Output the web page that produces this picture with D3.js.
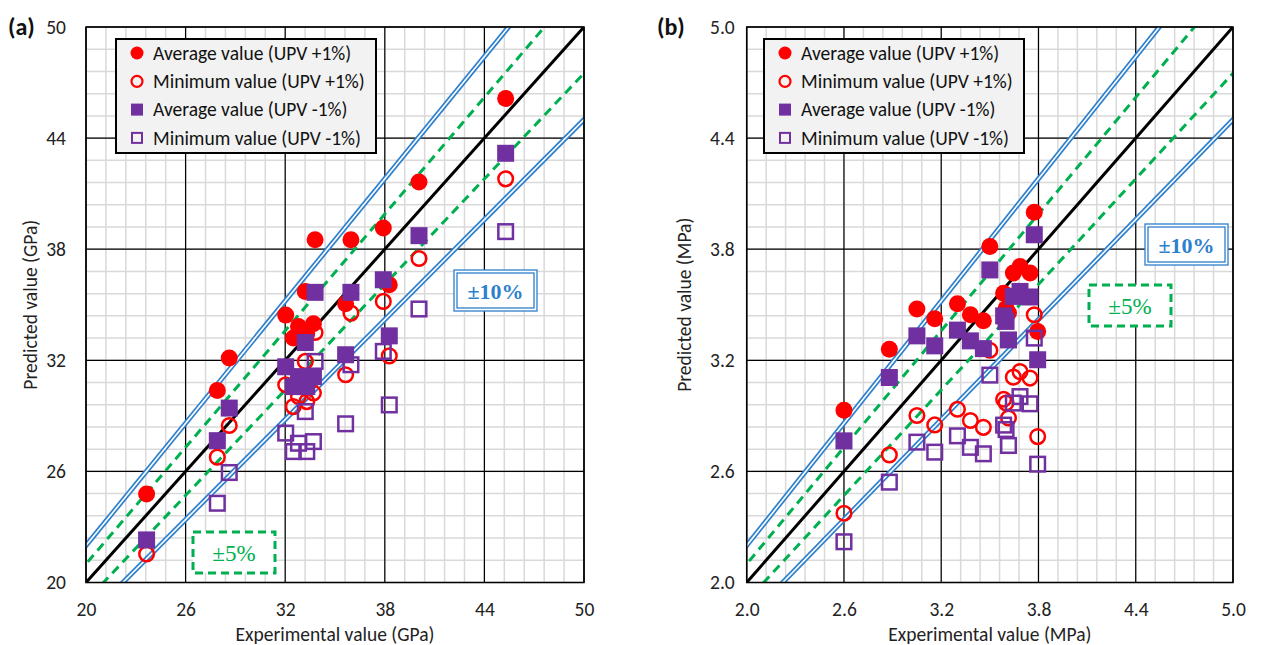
<!DOCTYPE html>
<html>
<head>
<meta charset="utf-8">
<script src="https://cdn.jsdelivr.net/npm/d3@7"></script>
<style>
  body { margin: 0; background: #fff; }
  svg text { font-family: Carlito, Lato, "Open Sans", sans-serif; }
</style>
</head>
<body>
<svg id="chart" width="1285" height="645"></svg>
<script>
// ---- data (a): elastic modulus, GPa ----
const expA      = [23.65, 27.91, 28.63, 32.03, 32.49, 32.8, 33.21, 33.3, 33.7, 33.8, 35.64, 35.96, 37.91, 38.27, 40.06, 45.28];
const avgPlusA  = [24.78, 30.37, 32.12, 34.44, 33.2, 33.83, 35.72, 33.45, 33.97, 38.51, 35.05, 38.51, 39.15, 36.08, 41.63, 46.14];
const minPlusA  = [21.54, 26.77, 28.48, 30.68, 29.5, 30.05, 31.94, 29.77, 30.23, 33.5, 31.22, 34.55, 35.18, 32.24, 37.5, 41.8];
const avgMinusA = [22.3, 27.66, 29.42, 31.65, 30.58, 31.12, 32.96, 30.58, 31.12, 35.67, 32.3, 35.67, 36.35, 33.32, 38.73, 43.18];
const minMinusA = [null, 24.28, 25.94, 28.07, 27.07, 27.52, 29.23, 27.07, 27.61, 31.94, 28.57, 31.76, 32.48, 29.59, 34.77, 38.95];
const ticksA = [20, 26, 32, 38, 44, 50];

// ---- data (b): strength, MPa ----
const expB      = [2.6, 2.88, 3.05, 3.16, 3.3, 3.38, 3.46, 3.5, 3.585, 3.6, 3.615, 3.645, 3.686, 3.748, 3.774, 3.795];
const avgPlusB  = [2.93, 3.26, 3.477, 3.424, 3.505, 3.446, 3.413, 3.815, 3.562, 3.48, 3.455, 3.671, 3.707, 3.671, 3.999, 3.356];
const minPlusB  = [2.374, 2.689, 2.902, 2.851, 2.936, 2.875, 2.838, 3.254, 2.99, 2.969, 2.888, 3.109, 3.139, 3.104, 3.446, 2.788];
const avgMinusB = [2.765, 3.107, 3.332, 3.278, 3.363, 3.305, 3.263, 3.688, 3.44, 3.41, 3.31, 3.545, 3.572, 3.542, 3.878, 3.203];
const minMinusB = [2.22, 2.542, 2.758, 2.704, 2.792, 2.73, 2.695, 3.12, 2.85, 2.826, 2.74, 2.969, 3.004, 2.965, 3.32, 2.639];
const ticksB = [2.0, 2.6, 3.2, 3.8, 4.4, 5.0];

const legendLabels = ["Average value (UPV +1%)", "Minimum value (UPV +1%)", "Average value (UPV -1%)", "Minimum value (UPV -1%)"];

const RED = "#ff0000", PURPLE = "#7030a0", GREEN = "#00b050", BLUE = "#2e7fcc";
const FS = 19.5; // text size

const svg = d3.select("#chart");

function drawPanel(c) {
  const x = d3.scaleLinear().domain([c.ticks[0], c.ticks[5]]).range([c.left, c.right]);
  const y = d3.scaleLinear().domain([c.ticks[0], c.ticks[5]]).range([c.bottom, c.top]);
  const lo = c.ticks[0], hi = c.ticks[5];
  const minorStep = (hi - lo) / 25;
  const minor = d3.range(0, 26).map(i => lo + i * minorStep);

  const g = svg.append("g");

  // minor grid
  g.selectAll(".mx").data(minor).enter().append("line")
    .attr("x1", d => x(d)).attr("x2", d => x(d)).attr("y1", c.top).attr("y2", c.bottom)
    .attr("stroke", "#d9d9d9").attr("stroke-width", 1.5);
  g.selectAll(".my").data(minor).enter().append("line")
    .attr("y1", d => y(d)).attr("y2", d => y(d)).attr("x1", c.left).attr("x2", c.right)
    .attr("stroke", "#d9d9d9").attr("stroke-width", 1.5);
  // major grid
  g.selectAll(".Mx").data(c.ticks).enter().append("line")
    .attr("x1", d => x(d)).attr("x2", d => x(d)).attr("y1", c.top).attr("y2", c.bottom)
    .attr("stroke", "#000").attr("stroke-width", 1.2);
  g.selectAll(".My").data(c.ticks).enter().append("line")
    .attr("y1", d => y(d)).attr("y2", d => y(d)).attr("x1", c.left).attr("x2", c.right)
    .attr("stroke", "#000").attr("stroke-width", 1.2);

  // reference lines, clipped to plot area
  const clipId = "clip" + c.name;
  svg.append("clipPath").attr("id", clipId).append("rect")
    .attr("x", c.left).attr("y", c.top).attr("width", c.right - c.left).attr("height", c.bottom - c.top);
  const ref = g.append("g").attr("clip-path", `url(#${clipId})`);
  const line = d3.line().x(d => x(d[0])).y(d => y(d[1]));
  const span = k => [[lo * 0.8, lo * 0.8 * k], [hi * 1.2, hi * 1.2 * k]];

  [1.1, 0.9].forEach(k => {
    // double line: thick blue with thin white centre
    ref.append("path").attr("d", line(span(k))).attr("stroke", BLUE).attr("stroke-width", 5).attr("fill", "none");
    ref.append("path").attr("d", line(span(k))).attr("stroke", "#fff").attr("stroke-width", 1.6).attr("fill", "none");
  });
  [1.05, 0.95].forEach(k => {
    ref.append("path").attr("d", line(span(k))).attr("stroke", GREEN).attr("stroke-width", 3)
      .attr("stroke-dasharray", "9,6").attr("fill", "none");
  });
  ref.append("path").attr("d", line(span(1))).attr("stroke", "#000").attr("stroke-width", 3).attr("fill", "none");

  // plot border
  g.append("rect").attr("x", c.left).attr("y", c.top)
    .attr("width", c.right - c.left).attr("height", c.bottom - c.top)
    .attr("fill", "none").attr("stroke", "#000").attr("stroke-width", 1.5);

  // axes (labels only)
  const xa = g.append("g").attr("transform", `translate(0,${c.bottom})`)
    .call(d3.axisBottom(x).tickValues(c.ticks).tickFormat(c.fmt).tickSize(0).tickPadding(20));
  const ya = g.append("g").attr("transform", `translate(${c.left},0)`)
    .call(d3.axisLeft(y).tickValues(c.ticks).tickFormat(c.fmt).tickSize(0).tickPadding(c.yPad));
  [xa, ya].forEach(a => {
    a.select(".domain").remove();
    a.selectAll("text").attr("font-size", FS).attr("fill", "#222").style("font-family", "Carlito, Lato, sans-serif");
  });

  g.append("text").attr("x", (c.left + c.right) / 2).attr("y", 641)
    .attr("text-anchor", "middle").attr("font-size", FS).attr("fill", "#222").text(c.xTitle);
  g.append("text").attr("transform", `translate(${c.yTitleX},${(c.top + c.bottom) / 2}) rotate(-90)`)
    .attr("text-anchor", "middle").attr("font-size", FS).attr("fill", "#222").text(c.yTitle);
  g.append("text").attr("x", c.tagX).attr("y", 35).attr("font-size", 24).attr("font-weight", "bold")
    .attr("fill", "#111").text(c.tag);

  // markers
  const pts = (ys) => c.exp.map((v, i) => [v, ys[i]]).filter(d => d[1] != null);
  const m = g.append("g");
  m.selectAll(".ap").data(pts(c.avgPlus)).enter().append("circle")
    .attr("cx", d => x(d[0])).attr("cy", d => y(d[1])).attr("r", 8.5).attr("fill", RED);
  m.selectAll(".mp").data(pts(c.minPlus)).enter().append("circle")
    .attr("cx", d => x(d[0])).attr("cy", d => y(d[1])).attr("r", 7.3)
    .attr("fill", "none").attr("stroke", RED).attr("stroke-width", 2.5);
  m.selectAll(".am").data(pts(c.avgMinus)).enter().append("rect")
    .attr("x", d => x(d[0]) - 8.5).attr("y", d => y(d[1]) - 8.5).attr("width", 17).attr("height", 17)
    .attr("fill", PURPLE);
  m.selectAll(".mm").data(pts(c.minMinus)).enter().append("rect")
    .attr("x", d => x(d[0]) - 7.3).attr("y", d => y(d[1]) - 7.3).attr("width", 14.6).attr("height", 14.6)
    .attr("fill", "none").attr("stroke", PURPLE).attr("stroke-width", 2.5);

  // legend
  const lg = g.append("g").attr("transform", `translate(${c.legX},39)`);
  lg.append("rect").attr("width", 260).attr("height", 114).attr("fill", "#f2f2f2")
    .attr("stroke", "#000").attr("stroke-width", 2);
  legendLabels.forEach((t, i) => {
    const yy = 14 + i * 28.3;
    if (i === 0) lg.append("circle").attr("cx", 21).attr("cy", yy).attr("r", 6.5).attr("fill", RED);
    if (i === 1) lg.append("circle").attr("cx", 21).attr("cy", yy).attr("r", 5.5).attr("fill", "none").attr("stroke", RED).attr("stroke-width", 2.2);
    if (i === 2) lg.append("rect").attr("x", 15).attr("y", yy - 6).attr("width", 12).attr("height", 12).attr("fill", PURPLE);
    if (i === 3) lg.append("rect").attr("x", 16).attr("y", yy - 5).attr("width", 10).attr("height", 10).attr("fill", "none").attr("stroke", PURPLE).attr("stroke-width", 2);
    lg.append("text").attr("x", 37).attr("y", yy).attr("dy", "0.35em").attr("font-size", FS).attr("fill", "#111").text(t);
  });

  // ±10% label box (double border)
  const b10 = g.append("g").attr("transform", `translate(${c.box10[0]},${c.box10[1]})`);
  b10.append("rect").attr("width", 83).attr("height", 41).attr("fill", "#fff").attr("stroke", BLUE).attr("stroke-width", 1.3);
  b10.append("rect").attr("x", 3).attr("y", 3).attr("width", 77).attr("height", 35).attr("fill", "none").attr("stroke", BLUE).attr("stroke-width", 1.3);
  b10.append("text").attr("x", 41.5).attr("y", 21).attr("dy", "0.35em").attr("text-anchor", "middle")
    .attr("font-size", 22).attr("font-weight", "bold").attr("fill", BLUE)
    .style("font-family", "'Liberation Serif', 'DejaVu Serif', serif").text("±10%");

  // ±5% label box (dashed border)
  const b5 = g.append("g").attr("transform", `translate(${c.box5[0]},${c.box5[1]})`);
  b5.append("rect").attr("width", 82).attr("height", 41).attr("fill", "#fff").attr("stroke", GREEN)
    .attr("stroke-width", 3).attr("stroke-dasharray", "8,5");
  b5.append("text").attr("x", 41).attr("y", 21).attr("dy", "0.35em").attr("text-anchor", "middle")
    .attr("font-size", 23).attr("fill", GREEN)
    .style("font-family", "'Liberation Serif', 'DejaVu Serif', serif").text("±5%");
}

drawPanel({
  name: "a", tag: "(a)", tagX: 8,
  left: 86, right: 584, top: 27, bottom: 582.5,
  ticks: ticksA, fmt: d3.format("d"), yPad: 20, yTitleX: 37,
  exp: expA, avgPlus: avgPlusA, minPlus: minPlusA, avgMinus: avgMinusA, minMinus: minMinusA,
  xTitle: "Experimental value (GPa)", yTitle: "Predicted value (GPa)",
  legX: 116, box10: [454, 270], box5: [193, 532]
});

drawPanel({
  name: "b", tag: "(b)", tagX: 657,
  left: 746.7, right: 1233, top: 27, bottom: 582.5,
  ticks: ticksB, fmt: d3.format(".1f"), yPad: 12, yTitleX: 691,
  exp: expB, avgPlus: avgPlusB, minPlus: minPlusB, avgMinus: avgMinusB, minMinus: minMinusB,
  xTitle: "Experimental value (MPa)", yTitle: "Predicted value (MPa)",
  legX: 764, box10: [1145, 224], box5: [1089, 285]
});
</script>
</body>
</html>
